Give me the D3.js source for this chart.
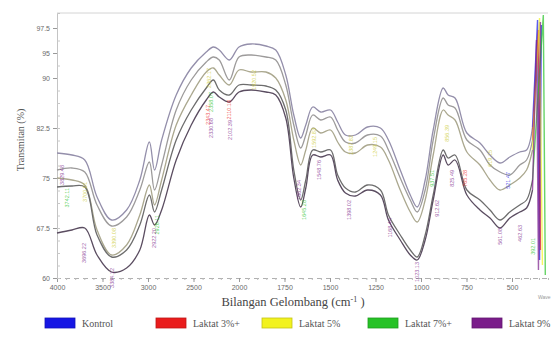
<!DOCTYPE html>
<html>
<head>
<meta charset="utf-8">
<script src="https://cdn.jsdelivr.net/npm/d3@7"></script>
<style>
  body { margin: 0; background: #fff; }
  svg { display: block; }
</style>
</head>
<body>
<svg id="chart" width="552" height="340"></svg>
<script>
// series names + colours (legend colours, the traces themselves are greyish)
const series = ['Kontrol', 'Laktat 3%+', 'Laktat 5%', 'Laktat 7%+', 'Laktat 9%'];
const legendColors = ['#1616e4', '#ea1c1c', '#f2f21e', '#26c226', '#7a1c8a'];
const lineColors = ['#948fab', '#9d9b9b', '#aba88f', '#6d6d6d', '#5b4d61'];

// wavenumbers (cm-1) shared by the five traces
const wavenumbers = [4000, 3835, 3695, 3560, 3400, 3235, 3090, 2985, 2928, 2850,
  2690, 2525, 2360, 2282, 2217, 2107, 2000, 1934, 1852, 1798,
  1743, 1699, 1661, 1633, 1595, 1551, 1497, 1458, 1415, 1360,
  1294, 1223, 1179, 1114, 1059, 1021, 977, 933, 878, 851,
  813, 748, 676, 621, 566, 512, 457, 419, 386];

// transmittance (%)
const kontrol = [78.75, 78.45, 77.7, 72.15, 68.7, 70.2, 74.7, 80.4, 76.2, 80.7,
  87.45, 92, 95.1, 95.6, 95.3, 93.6, 95.6, 95.9, 95.7, 95.3,
  90.6, 84.45, 81, 82.95, 85.65, 84.9, 85.2, 83.4, 81.45, 81.45,
  82.65, 82.5, 80.7, 76.2, 72.45, 70.65, 74.7, 82.2, 88.5, 87.45,
  87, 81.75, 80.25, 78.45, 77.25, 78.15, 78.9, 79.2, 82.65];
const laktat3 = [76.2, 76.5, 75.9, 70.95, 67.8, 69.15, 73.2, 77.4, 73.2, 76.95,
  85.2, 89.7, 93.2, 94.2, 93.6, 89.7, 94.2, 94.6, 94.2, 93.6,
  88.95, 82.95, 79.5, 81.45, 84.45, 83.7, 84.15, 82.2, 80.4, 80.25,
  81.45, 81.3, 79.2, 75, 71.7, 69.9, 73.2, 80.7, 87, 85.95,
  85.5, 80.7, 79.2, 76.95, 75.9, 75.45, 76.95, 77.7, 80.7];
const laktat5 = [75, 74.7, 73.95, 67.2, 63.45, 64.95, 69.45, 73.95, 70.95, 74.7,
  82.95, 87.45, 91.2, 92, 90.6, 88.95, 91.6, 91.2, 91.2, 90,
  86.7, 80.7, 76.95, 79.2, 82.5, 81.75, 82.2, 80.4, 78.9, 78.75,
  79.95, 79.65, 77.7, 73.2, 69.9, 68.4, 71.7, 78.45, 85.2, 84.45,
  83.7, 78.9, 76.95, 74.7, 73.2, 73.95, 75, 76.2, 79.2];
const laktat7 = [73.65, 73.8, 73.65, 66.45, 63.15, 64.2, 67.95, 72.45, 69.9, 73.2,
  80.7, 85.2, 88.5, 89.7, 88.2, 87.45, 88.95, 88.95, 88.8, 88.2,
  85.2, 76.2, 71.7, 74.7, 79.2, 78.9, 79.2, 75.45, 73.5, 72.9,
  73.95, 73.2, 69.45, 66.45, 64.2, 63.15, 66.45, 72.45, 79.2, 78,
  78.45, 73.2, 71.7, 70.2, 68.7, 69.9, 70.95, 71.7, 74.7];
const laktat9 = [66.75, 67.2, 67.5, 63.45, 60.9, 61.5, 64.2, 69.45, 67.95, 70.2,
  77.7, 82.95, 86.7, 87.9, 87.15, 86.4, 87.9, 88.2, 87.9, 87.45,
  84, 75, 70.65, 73.5, 78.45, 78.15, 78.45, 74.7, 72.75, 72.3,
  73.2, 72.45, 68.7, 65.7, 63.45, 62.7, 65.7, 71.7, 78.45, 76.95,
  77.7, 72.45, 70.2, 69, 67.5, 69, 69.9, 70.5, 73.2];
const traces = [kontrol, laktat3, laktat5, laktat7, laktat9];

// noisy ends below ~400 cm-1 (drawn in the legend colour)
const tailWn = [[358, 347, 337], [353, 342], [347, 331], [326, 315], [364, 353, 342]];
const tailT = [[98.3, 62.7, 97.8], [97.3, 64.2], [98.5, 61.95], [98.8, 60.45], [96.3, 61.2, 98.1]];

// peak labels: series index, wavenumber, transmittance at top of label, text
const peakLabels = [
  [4, 3945, 76.95, '3829.48'], [3, 3891, 73.5, '3742.11'], [4, 3705, 65.25, '3696.22'],
  [2, 3694, 74.4, '3700.01'], [2, 3376, 67.5, '3390.08'], [4, 3398, 61.5, '3384.12'],
  [3, 2906, 69.45, '2926.11'], [4, 2939, 67.5, '2922.20'], [2, 2326, 92, '2362.17'],
  [3, 2304, 87.9, '2358.07'], [1, 2337, 85.95, '2343.47'], [4, 2304, 84, '2330.68'],
  [1, 2107, 86.7, '2110.18'], [4, 2100, 83.7, '2102.39'], [2, 1918, 91.6, '1920.52'],
  [4, 1672, 74.7, '1662.34'], [3, 1644, 71.7, '1645.28'], [2, 1590, 82.5, '1592.83'],
  [4, 1562, 77.7, '1548.76'], [2, 1387, 81.45, '1387.82'], [4, 1398, 71.7, '1398.02'],
  [2, 1251, 81.15, '1249.15'], [4, 1169, 69, '1168.44'], [4, 1021, 62.4, '1023.13'],
  [3, 938, 76.2, '937.51'], [4, 911, 71.7, '912.62'], [2, 856, 82.95, '856.39'],
  [4, 829, 76.2, '825.49'], [1, 758, 76.2, '765.28'], [2, 621, 79.2, '619.15'],
  [4, 566, 67.5, '561.08'], [0, 523, 75.9, '521.47'], [4, 457, 67.95, '462.63'],
  [3, 386, 66, '392.01']
];

const xTicks = [4000, 3500, 3000, 2500, 2000, 1750, 1500, 1250, 1000, 750, 500];
const yTicks = [60, 67.5, 75, 82.5, 90, 95, 97.5];

const svg = d3.select('#chart');

// axis is compressed above 2000 cm-1, like most FTIR plots
const x = d3.scaleLinear().domain([4000, 2000, 500, 300]).range([57, 239, 512, 548]);
const y = d3.scaleLinear().domain([60, 90, 95, 97.5, 99]).range([278, 78, 53, 28, 13]);

// frame top
svg.append('line')
  .attr('x1', 57).attr('x2', 548).attr('y1', 13).attr('y2', 13)
  .attr('stroke', '#d4d4d4');

// bottom axis
const xMinor = d3.range(4000, 2000, -100).concat(d3.range(2000, 299, -50));
svg.append('g')
  .attr('transform', 'translate(0,278)')
  .call(d3.axisBottom(x).tickValues(xMinor).tickSize(2).tickFormat(''))
  .call((g) => g.select('.domain').attr('stroke', '#b0b0b0').attr('stroke-dasharray', '5,4'))
  .call((g) => g.selectAll('.tick line').attr('stroke', '#bbb'));

svg.append('g')
  .attr('transform', 'translate(0,278)')
  .call(d3.axisBottom(x).tickValues(xTicks).tickSize(4).tickPadding(3).tickFormat((d) => d))
  .call((g) => g.select('.domain').remove())
  .call((g) => g.selectAll('.tick line').attr('stroke', '#999'))
  .call((g) => g.selectAll('.tick text')
    .attr('fill', '#6a6a6a')
    .style('font', '7px "Liberation Sans", sans-serif'));

// left axis
svg.append('g')
  .attr('transform', 'translate(57,0)')
  .call(d3.axisRight(y).tickValues(d3.range(60, 90, 1.875).concat([92.5, 96.25])).tickSize(3).tickFormat(''))
  .call((g) => g.select('.domain').attr('stroke', '#c4c4c4'))
  .call((g) => g.selectAll('.tick line').attr('stroke', '#c8c8c8'));

svg.append('g')
  .attr('transform', 'translate(57,0)')
  .call(d3.axisLeft(y).tickValues(yTicks).tickSize(4).tickPadding(3).tickFormat((d) => d))
  .call((g) => g.select('.domain').remove())
  .call((g) => g.selectAll('.tick line').attr('stroke', '#999'))
  .call((g) => g.selectAll('.tick text')
    .attr('fill', '#6a6a6a')
    .style('font', '7px "Liberation Sans", sans-serif'));

// titles
svg.append('text')
  .attr('transform', 'translate(24,140) rotate(-90)')
  .attr('text-anchor', 'middle')
  .attr('fill', '#555')
  .style('font', '10px "Liberation Serif", serif')
  .text('Transmitan (%)');

const xt = svg.append('text')
  .attr('x', 293).attr('y', 306)
  .attr('text-anchor', 'middle')
  .attr('fill', '#444')
  .style('font', '12.5px "Liberation Serif", serif');
xt.append('tspan').text('Bilangan Gelombang (cm');
xt.append('tspan').attr('dy', -4).style('font-size', '8px').text('-1');
xt.append('tspan').attr('dy', 4).text(' )');

svg.append('text')
  .attr('x', 538).attr('y', 299)
  .attr('fill', '#999')
  .style('font', '5px "Liberation Sans", sans-serif')
  .text('Wave');

// traces
const line = d3.line()
  .x((d) => x(d[0]))
  .y((d) => y(d[1]))
  .curve(d3.curveCatmullRom.alpha(0.5));

const plot = svg.append('g');

traces.forEach((vals, i) => {
  const pts = wavenumbers.map((w, j) => [w, vals[j]]);
  const last = pts[pts.length - 1];
  const tail = [last].concat(tailWn[i].map((w, j) => [w, tailT[i][j]]));

  plot.append('path')
    .datum(tail)
    .attr('fill', 'none')
    .attr('stroke', legendColors[i])
    .attr('stroke-opacity', 0.7)
    .attr('stroke-width', 1.4)
    .attr('d', d3.line().x((d) => x(d[0])).y((d) => y(d[1])));

  plot.append('path')
    .datum(pts)
    .attr('fill', 'none')
    .attr('stroke', lineColors[i])
    .attr('stroke-width', 1.3)
    .attr('d', line);
});

// peak labels (rotated)
plot.selectAll('text.peak')
  .data(peakLabels)
  .join('text')
  .attr('class', 'peak')
  .attr('transform', (d) => `translate(${x(d[1]) + 2},${y(d[2])}) rotate(-90)`)
  .attr('text-anchor', 'end')
  .attr('fill', (d) => legendColors[d[0]] === '#f2f21e' ? '#c9c92a' : legendColors[d[0]])
  .attr('fill-opacity', 0.75)
  .style('font', '5.5px "Liberation Sans", sans-serif')
  .text((d) => d[3]);

// legend
const legendX = [45, 156, 262, 368, 472];
const lg = svg.append('g')
  .selectAll('g')
  .data(series)
  .join('g')
  .attr('transform', (d, i) => `translate(${legendX[i]},318)`);

lg.append('rect')
  .attr('width', 30).attr('height', 10)
  .attr('fill', (d, i) => legendColors[i])
  .attr('stroke', (d, i) => d3.color(legendColors[i]).darker(0.6))
  .attr('stroke-width', 0.8);

lg.append('text')
  .attr('x', 37).attr('y', 9)
  .attr('fill', '#555')
  .style('font', '10px "Liberation Serif", serif')
  .text((d) => d);
</script>
</body>
</html>
